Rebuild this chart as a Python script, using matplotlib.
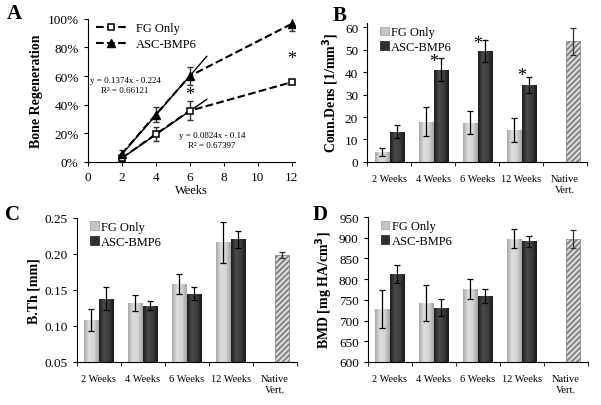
import numpy as np
import matplotlib
matplotlib.use('Agg')
import matplotlib.pyplot as plt
from matplotlib.colors import LinearSegmentedColormap
from matplotlib.ticker import FuncFormatter, FixedLocator, NullFormatter

plt.rcParams['font.family'] = ['Liberation Serif', 'DejaVu Serif']
plt.rcParams['hatch.linewidth'] = 1.3

# panel A data
weeks = [2, 4, 6, 12]
fg_regen = [0.026, 0.193, 0.357, 0.557]
fg_regen_err = [0.02, 0.05, 0.065, 0.01]
asc_regen = [0.056, 0.33, 0.60, 0.965]
asc_regen_err = [0.025, 0.05, 0.06, 0.05]
asc_fit = (0.1374, -0.224)
fg_fit = (0.0824, -0.14)

# bar panels
groups = ['2 Weeks', '4 Weeks', '6 Weeks', '12 Weeks', 'Native\nVert.']
conn_fg = [4.5, 17.8, 17.5, 14.2]
conn_fg_err = [1.8, 6.5, 5.0, 5.5]
conn_asc = [13.5, 41.2, 49.5, 34.4]
conn_asc_err = [3.0, 5.0, 5.0, 3.5]
conn_native, conn_native_err = 53.8, 6.0

bth_fg = [0.108, 0.132, 0.158, 0.216]
bth_fg_err = [0.015, 0.011, 0.014, 0.028]
bth_asc = [0.138, 0.128, 0.145, 0.220]
bth_asc_err = [0.016, 0.006, 0.009, 0.012]
bth_native, bth_native_err = 0.198, 0.004

bmd_fg = [728, 742, 777, 897]
bmd_fg_err = [45, 44, 24, 23]
bmd_asc = [813, 731, 759, 891]
bmd_asc_err = [22, 21, 16, 14]
bmd_native, bmd_native_err = 897, 21

fg_cmap = LinearSegmentedColormap.from_list('fg', ['#a9a9a9', '#dedede', '#d4d4d4', '#a4a4a4'])
asc_cmap = LinearSegmentedColormap.from_list('asc', ['#1c1c1c', '#4a4a4a', '#3c3c3c', '#181818'])
grad = np.linspace(0, 1, 64).reshape(1, -1)

fig = plt.figure(figsize=(6.01, 4.06), dpi=100)

# ---- panel A
axA = fig.add_axes([0.146, 0.599, 0.345, 0.352])
xs = np.array(weeks)
axA.errorbar(xs, fg_regen, yerr=fg_regen_err, fmt='none', ecolor='#333333', elinewidth=1, capsize=2.5, zorder=2)
axA.errorbar(xs, asc_regen, yerr=asc_regen_err, fmt='none', ecolor='#333333', elinewidth=1, capsize=2.5, zorder=2)
axA.plot(xs, fg_regen, ls='--', color='black', lw=1.5, marker='s', ms=4.5, mfc='white', mec='black', mew=1.1,
         label='FG Only', zorder=3)
axA.plot(xs, asc_regen, ls='--', color='black', lw=1.5, marker='^', ms=5.5, mfc='black', mec='black',
         label='ASC-BMP6', zorder=3)
xt = np.array([2, 7])
axA.plot(xt, asc_fit[0] * xt + asc_fit[1], color='black', lw=1, zorder=2)
axA.plot(xt, fg_fit[0] * xt + fg_fit[1], color='black', lw=1, zorder=2)
axA.text(2.2, 0.535, 'y = 0.1374x - 0.224\nR² = 0.66121', ha='center', va='center', fontsize=6.5, linespacing=1.3)
axA.text(7.3, 0.155, 'y = 0.0824x - 0.14\nR² = 0.67397', ha='center', va='center', fontsize=6.5, linespacing=1.3)
axA.text(6, 0.47, '*', ha='center', va='center', fontsize=13)
axA.text(12, 0.72, '*', ha='center', va='center', fontsize=13)
axA.set_xlim(0, 12.2)
axA.set_ylim(0, 1.0)
axA.set_xticks([0, 2, 4, 6, 8, 10, 12])
axA.set_yticks([0, 0.2, 0.4, 0.6, 0.8, 1.0])
axA.yaxis.set_major_formatter(FuncFormatter(lambda v, p: f'{v * 100:.0f}%'))
axA.set_xlabel('Weeks', fontsize=9, labelpad=1)
axA.set_ylabel('Bone Regeneration', fontsize=10, fontweight='bold', labelpad=3)
axA.legend(loc='upper left', frameon=False, fontsize=9, handlelength=2.4, borderaxespad=0.1,
           bbox_to_anchor=(0.01, 1.02), labelspacing=0.3)
for s in ['top', 'right']:
    axA.spines[s].set_visible(False)
axA.tick_params(labelsize=9.5, length=3, direction='out')


def shade(ax, bars, cmap, ymin):
    # horizontal gradient inside each bar, kept inside the axes
    for b in bars:
        x0 = b.get_x()
        y0 = max(b.get_y(), ymin)
        im = ax.imshow(grad, cmap=cmap, aspect='auto', interpolation='bilinear',
                       extent=(x0, x0 + b.get_width(), y0, b.get_y() + b.get_height()),
                       zorder=b.get_zorder() + 0.1)
        im.set_clip_path(b)


def bar_panel(rect, fg, fg_err, asc, asc_err, native, native_err, ylim, yticks, fmt, ylabel, stars=None):
    ax = fig.add_axes(rect)
    x = np.arange(len(fg))
    w = 0.32
    ek = dict(ecolor='black', elinewidth=0.9, capsize=2.5, capthick=0.9, zorder=4)
    b1 = ax.bar(x - w / 2 - 0.01, fg, w, color='#c4c4c4', edgecolor='#9a9a9a', lw=0.5, label='FG Only',
                yerr=fg_err, error_kw=ek)
    b2 = ax.bar(x + w / 2 + 0.01, asc, w, color='#303030', edgecolor='#1a1a1a', lw=0.5, label='ASC-BMP6',
                yerr=asc_err, error_kw=ek)
    ax.bar([len(fg) + w / 2 + 0.01], [native], w, color='#dcdcdc', edgecolor='#808080', lw=0.5, hatch='//////',
           yerr=[native_err], error_kw=dict(ek, ecolor='#333333'))
    if stars:
        for i, yv in stars:
            ax.text(i, yv, '*', ha='center', va='center', fontsize=13)
    ax.set_xlim(-0.5, len(groups) - 0.5)
    ax.set_ylim(*ylim)
    shade(ax, b1, fg_cmap, ylim[0])
    shade(ax, b2, asc_cmap, ylim[0])
    ax.set_xlim(-0.5, len(groups) - 0.5)
    ax.set_ylim(*ylim)
    ax.set_yticks(yticks)
    ax.yaxis.set_major_formatter(FuncFormatter(fmt))
    ax.set_xticks(np.arange(len(groups)))
    ax.set_xticklabels(groups, fontsize=7.5)
    ax.xaxis.set_minor_locator(FixedLocator(np.arange(len(groups) + 1) - 0.5))
    ax.xaxis.set_minor_formatter(NullFormatter())
    ax.tick_params(axis='x', which='major', length=0, pad=9)
    ax.tick_params(axis='x', which='minor', length=3)
    ax.tick_params(axis='y', labelsize=9.5, length=3)
    for s in ['top', 'right']:
        ax.spines[s].set_visible(False)
    ax.set_ylabel(ylabel, fontsize=10, fontweight='bold', labelpad=3)
    ax.legend(loc='upper left', frameon=False, fontsize=9, handlelength=0.7, handleheight=0.7,
              handletextpad=0.2, borderaxespad=0.1, bbox_to_anchor=(0.03, 1.02), labelspacing=0.2)
    return ax


bar_panel([0.611, 0.599, 0.366, 0.342], conn_fg, conn_fg_err, conn_asc, conn_asc_err,
          conn_native, conn_native_err, (0, 62), [0, 10, 20, 30, 40, 50, 60], lambda v, p: f'{v:.0f}',
          'Conn.Dens [1/mm$^\\mathbf{3}$]', stars=[(1, 44.7), (2, 53.0), (3, 38.7)])
bar_panel([0.128, 0.106, 0.366, 0.355], bth_fg, bth_fg_err, bth_asc, bth_asc_err,
          bth_native, bth_native_err, (0.05, 0.25), [0.05, 0.10, 0.15, 0.20, 0.25], lambda v, p: f'{v:.2f}',
          'B.Th [mm]')
bar_panel([0.612, 0.106, 0.366, 0.357], bmd_fg, bmd_fg_err, bmd_asc, bmd_asc_err,
          bmd_native, bmd_native_err, (600, 950), list(range(600, 951, 50)), lambda v, p: f'{v:.0f}',
          'BMD [mg HA/cm$^\\mathbf{3}$]')

for lbl, (x, y) in zip('ABCD', [(0.012, 0.965), (0.553, 0.96), (0.008, 0.47), (0.52, 0.47)]):
    fig.text(x, y, lbl, fontsize=15, fontweight='bold', ha='left', va='center')

fig.savefig('out.png', dpi=100)
